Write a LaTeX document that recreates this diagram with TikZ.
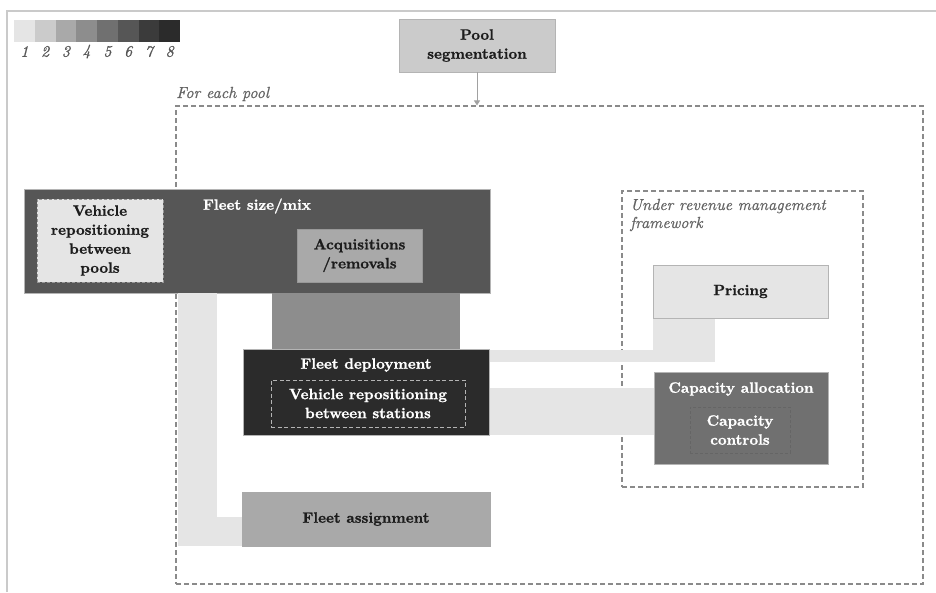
\documentclass[tikz,border=0pt]{standalone}
\usepackage{fontspec}
\usetikzlibrary{arrows.meta}
\newfontfamily\heavyfont{lmroman10-bold}[Extension=.otf, FakeBold=1.2]
\newfontfamily\slantfont{lmroman10-italic}[Extension=.otf, FakeBold=0.6]
\definecolor{g1}{HTML}{E5E5E5}
\definecolor{g2}{HTML}{CBCBCB}
\definecolor{g3}{HTML}{A9A9A9}
\definecolor{g4}{HTML}{8D8D8D}
\definecolor{g5}{HTML}{707070}
\definecolor{g6}{HTML}{565656}
\definecolor{g7}{HTML}{3B3B3B}
\definecolor{g8}{HTML}{2B2B2B}
\definecolor{ink}{HTML}{1C1C1C}
\definecolor{rim}{HTML}{B4B4B4}
\definecolor{dashc}{HTML}{8A8A8A}
\definecolor{note}{HTML}{646464}
\tikzset{
  box/.style={draw=rim, line width=0.8pt, inner sep=0pt, align=center,
    font=\fontsize{15}{19}\heavyfont},
  darktext/.style={text=ink},
  lighttext/.style={text=white},
  frame/.style={draw=dashc, line width=1.1pt, dash pattern=on 5pt off 3pt, inner sep=0pt},
  title/.style={inner sep=0pt, font=\fontsize{15}{19}\heavyfont},
  remark/.style={inner sep=0pt, text=note, align=left,
    font=\fontsize{16}{18}\slantfont},
}
\begin{document}
\begin{tikzpicture}[x=1pt,y=-1pt]
\useasboundingbox (0,0) rectangle (936,592);
\fill[white] (0,0) rectangle (936,592);

% outer page rule
\draw[rim!70, line width=1.4pt] (7,592) -- (7,11) -- (936,11);

% grey-level legend
\foreach \i/\c in {1/g1,2/g2,3/g3,4/g4,5/g5,6/g6,7/g7,8/g8}{
  \fill[\c] ({14+(\i-1)*20.75},20) rectangle ({14+\i*20.75},42);
  \node[inner sep=0pt, text=g6, font=\fontsize{16}{16}\slantfont]
    (lg\i) at ({24.4+(\i-1)*20.75},51.5) {\i};
}

% frames
\node[frame, minimum width=747pt, minimum height=478pt] (pool frame) at (549.5,345) {};
\node[remark, anchor=base west] (pool label) at (176,98) {For each pool};
\node[frame, minimum width=241pt, minimum height=296pt] (rm frame) at (742.5,339) {};
\node[remark, anchor=base west] (rm label) at (630,228)
  {Under revenue management\\framework};

% pool segmentation and its arrow
\node[box, darktext, fill=g2, minimum width=156pt, minimum height=53pt] (pool) at (477,45.5)
  {Pool\\segmentation};
\draw[dashc!80, line width=0.9pt, -{Triangle[width=6pt,length=5pt]}]
  (pool.south) -- (pool.south |- pool frame.north);

% strategic level
\node[box, fill=g6, minimum width=466pt, minimum height=104pt] (fsm) at (257,241) {};
\node[title, lighttext] (fsm title) at (257,206) {Fleet size/mix};
\node[box, darktext, fill=g1, draw=dashc!90, dash pattern=on 3pt off 2pt,
  minimum width=126pt, minimum height=83pt] (vrp) at (100,240.5)
  {Vehicle\\repositioning\\between\\pools};
\node[box, darktext, fill=g3, draw=g3!90!black, minimum width=125pt, minimum height=53pt]
  (acq) at (359.5,255.5) {Acquisitions\\/removals};

% decision boxes placed first so the bands can hook onto them
\node[box, fill=g8, minimum width=246pt, minimum height=86pt] (fd) at (366,392) {};
\node[box, fill=g3, draw=g3, minimum width=248pt, minimum height=54pt] (fa) at (366,519) {};
\node[box, fill=g1, minimum width=175pt, minimum height=53pt] (pr) at (740.5,291.5) {};
\node[box, fill=g5, minimum width=174pt, minimum height=92pt] (ca) at (741,418) {};

% bands linking the levels
\fill[g4] (fsm.south -| 272,0) rectangle (fd.north -| 460,0);
\fill[g1] (fsm.south -| 178,0) rectangle (fa.south -| 217,0);
\fill[g1] (178,517) rectangle (fa.south west);
\fill[g1] (fd.east |- 0,350) rectangle (715,362);
\fill[g1] (pr.south west) rectangle (715,362);
\fill[g1] (fd.east |- 0,388) rectangle (ca.west |- fd.south);

% boxes again, over the bands' edges, with their texts
\node[box, fill=g8, minimum width=246pt, minimum height=86pt] at (fd) {};
\node[box, darktext, fill=g3, draw=g3, minimum width=248pt, minimum height=54pt]
  at (fa) {Fleet assignment};
\node[box, darktext, fill=g1, minimum width=175pt, minimum height=53pt]
  at (pr) {Pricing};
\node[box, fill=g5, minimum width=174pt, minimum height=92pt] at (ca) {};

% fleet deployment contents
\node[title, lighttext] (fd title) at (366,365) {Fleet deployment};
\node[box, lighttext, fill=none, draw=rim, dash pattern=on 4pt off 2.5pt,
  minimum width=194pt, minimum height=47pt] (vrs) at (368,403.5)
  {Vehicle repositioning\\between stations};

% capacity allocation contents
\node[title, lighttext] (ca title) at (741,389) {Capacity allocation};
\node[box, lighttext, fill=none, draw=g5!90!black, dash pattern=on 3pt off 2pt,
  minimum width=100pt, minimum height=46pt] (cc) at (740,430)
  {Capacity\\controls};
\end{tikzpicture}
\end{document}
